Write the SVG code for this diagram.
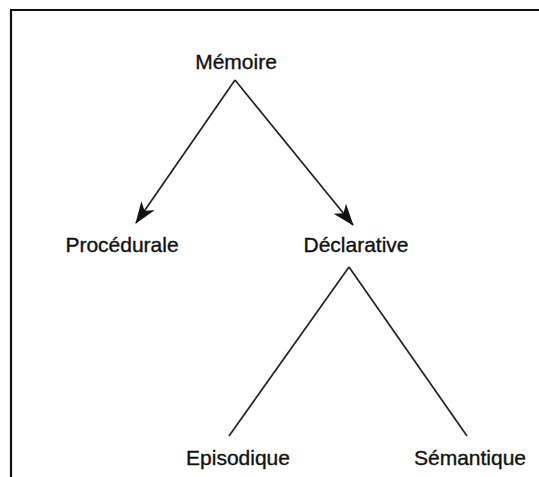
<svg xmlns="http://www.w3.org/2000/svg" width="539" height="477" viewBox="0 0 539 477">
<defs>
<style>
text{font-family:"Liberation Sans",Arial,sans-serif;font-size:21px;fill:#111;stroke:#111;stroke-width:0.35;text-anchor:middle}
.c{stroke:#222;stroke-width:1.7;fill:none}
.f{stroke:#111;stroke-width:2.2;fill:none}
</style>
<marker id="ah" viewBox="0 0 22 16" refX="21" refY="8" markerWidth="22" markerHeight="16" markerUnits="userSpaceOnUse" orient="auto">
<path d="M0,0 L22,8 L0,16 L6,8 Z" fill="#111"/>
</marker>
</defs>
<rect width="539" height="477" fill="#fff"/>
<path class="f" d="M11,477 V10 H539"/>
<g id="connectors">
<line class="c" x1="235" y1="80" x2="136" y2="223" marker-end="url(#ah)"/>
<line class="c" x1="235" y1="80" x2="353" y2="225" marker-end="url(#ah)"/>
<line class="c" x1="349" y1="267" x2="229" y2="436"/>
<line class="c" x1="349" y1="267" x2="467" y2="436"/>
</g>
<g id="memoire"><text x="236" y="69">Mémoire</text></g>
<g id="procedurale"><text x="122" y="252">Procédurale</text></g>
<g id="declarative"><text x="356" y="252">Déclarative</text></g>
<g id="episodique"><text x="238" y="465">Episodique</text></g>
<g id="semantique"><text x="470" y="465">Sémantique</text></g>
</svg>
